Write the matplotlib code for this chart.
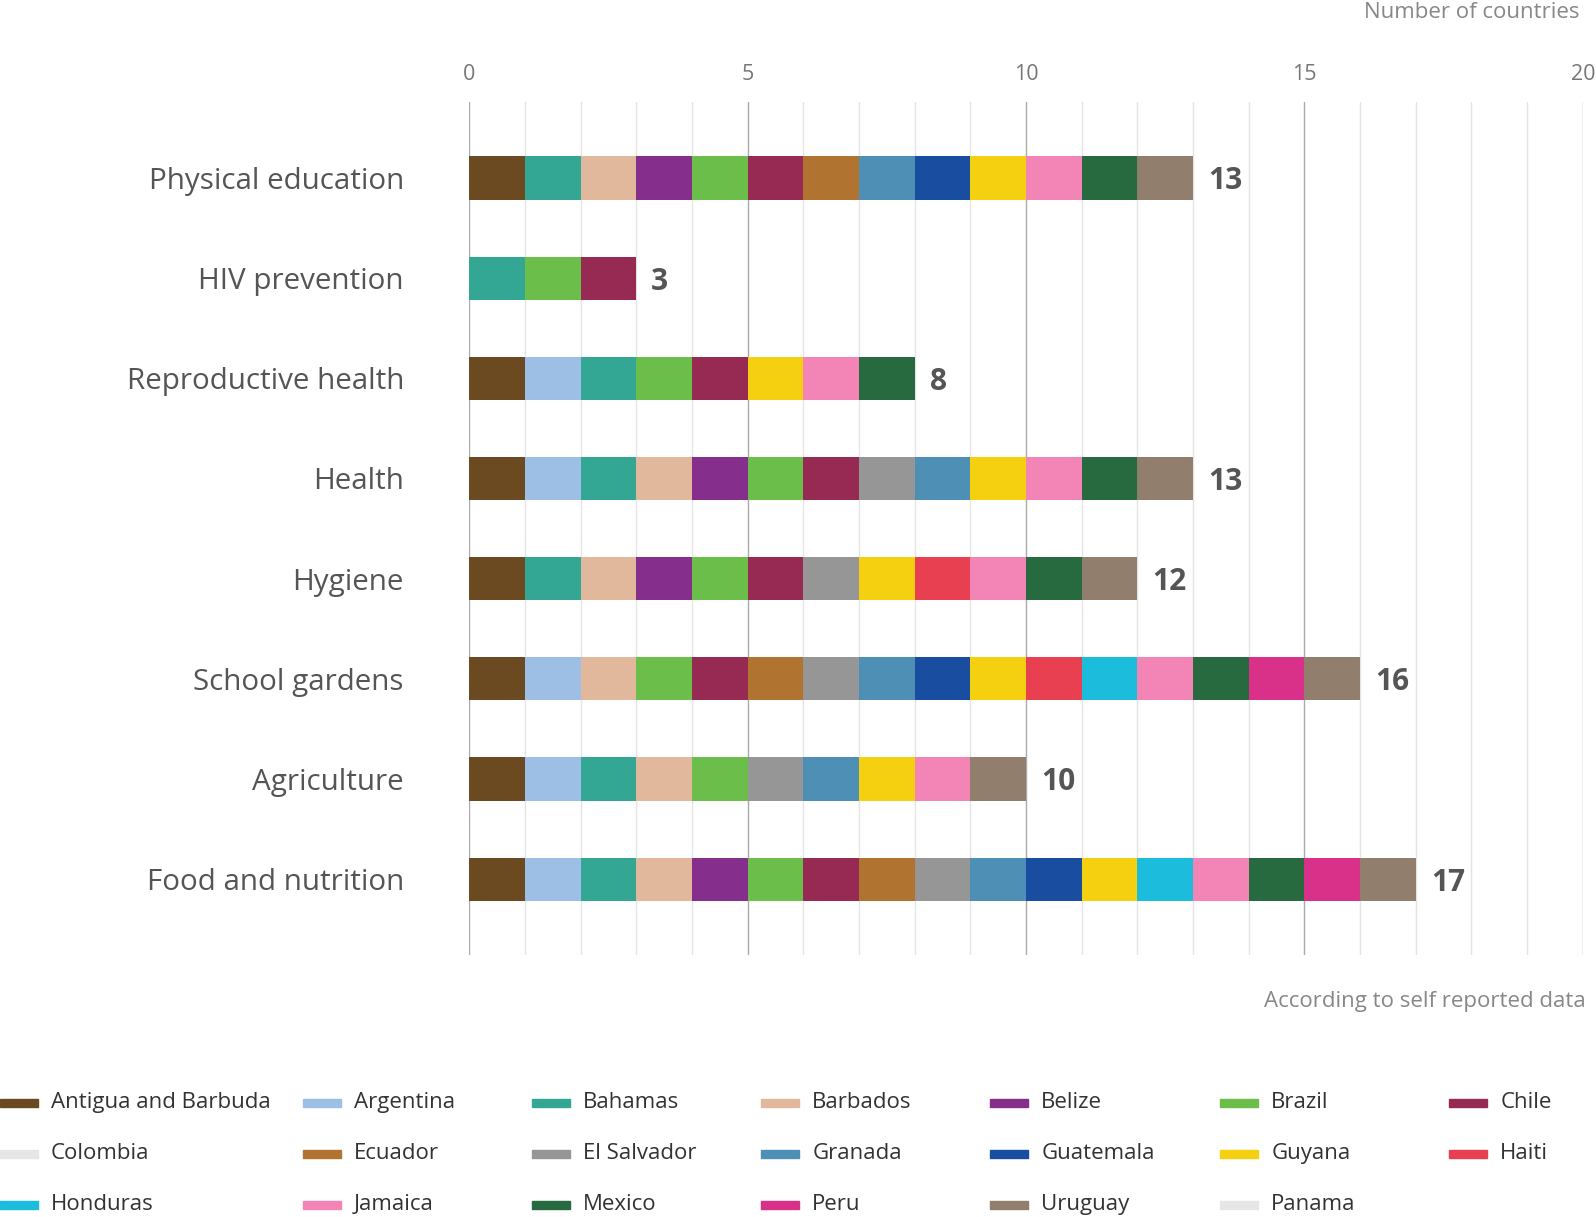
import matplotlib
matplotlib.use("Agg")
import matplotlib.pyplot as plt
from matplotlib.patches import Rectangle

plt.rcParams['font.family'] = ['Open Sans', 'DejaVu Sans']

# countries in legend order, with their colours
countries = ["Antigua and Barbuda", "Argentina", "Bahamas", "Barbados", "Belize", "Brazil", "Chile",
             "Colombia", "Ecuador", "El Salvador", "Granada", "Guatemala", "Guyana", "Haiti",
             "Honduras", "Jamaica", "Mexico", "Peru", "Uruguay", "Panama"]
colors = ["#6b4a22", "#9dbfe6", "#33a694", "#e2b89c", "#862e8c", "#6cbe4a", "#962a52",
          "#e6e6e6", "#b07430", "#969696", "#4e90b5", "#184da0", "#f5d010", "#e84050",
          "#1cbcdc", "#f285b5", "#276a40", "#d9308a", "#927e6c", "#e6e6e6"]

categories = ["Physical education", "HIV prevention", "Reproductive health", "Health",
              "Hygiene", "School gardens", "Agriculture", "Food and nutrition"]

# which countries report each topic
physical_education = ["Antigua and Barbuda", "Bahamas", "Barbados", "Belize", "Brazil", "Chile", "Ecuador",
                      "Granada", "Guatemala", "Guyana", "Jamaica", "Mexico", "Uruguay"]
hiv_prevention = ["Bahamas", "Brazil", "Chile"]
reproductive_health = ["Antigua and Barbuda", "Argentina", "Bahamas", "Brazil", "Chile", "Guyana",
                       "Jamaica", "Mexico"]
health = ["Antigua and Barbuda", "Argentina", "Bahamas", "Barbados", "Belize", "Brazil", "Chile",
          "El Salvador", "Granada", "Guyana", "Jamaica", "Mexico", "Uruguay"]
hygiene = ["Antigua and Barbuda", "Bahamas", "Barbados", "Belize", "Brazil", "Chile", "El Salvador",
           "Guyana", "Haiti", "Jamaica", "Mexico", "Uruguay"]
school_gardens = ["Antigua and Barbuda", "Argentina", "Barbados", "Brazil", "Chile", "Ecuador", "El Salvador",
                  "Granada", "Guatemala", "Guyana", "Haiti", "Honduras", "Jamaica", "Mexico", "Peru", "Uruguay"]
agriculture = ["Antigua and Barbuda", "Argentina", "Bahamas", "Barbados", "Brazil", "El Salvador",
               "Granada", "Guyana", "Jamaica", "Uruguay"]
food_nutrition = ["Antigua and Barbuda", "Argentina", "Bahamas", "Barbados", "Belize", "Brazil", "Chile",
                  "Ecuador", "El Salvador", "Granada", "Guatemala", "Guyana", "Honduras", "Jamaica",
                  "Mexico", "Peru", "Uruguay"]
members = [physical_education, hiv_prevention, reproductive_health, health,
           hygiene, school_gardens, agriculture, food_nutrition]

# layout measured on a 1568x1195 view of the target
W, H = 1568, 1195
def fx(px):
    return px / W
def fy(py):
    return 1 - py / H

fig = plt.figure(figsize=(15.96, 12.17), dpi=100)
ax = fig.add_axes([fx(461), fy(938), (1555 - 461) / W, (938 - 100) / H])

ypos = list(range(len(categories)))
left = [0] * len(categories)
for c, col in zip(countries, colors):
    w = [1 if c in m else 0 for m in members]
    ax.barh(ypos, w, left=left, height=0.43, color=col, zorder=3, linewidth=0)
    left = [l + wi for l, wi in zip(left, w)]

for y, tot in zip(ypos, left):
    ax.text(tot + 0.27, y, str(tot), va='center_baseline', ha='left', fontsize=21.5,
            fontweight='bold', color='#555555')

ax.set_xlim(0, 20)
ax.set_ylim(len(categories) - 0.24, -0.76)
ax.set_xticks([0, 5, 10, 15, 20])
ax.set_xticks(range(21), minor=True)
ax.xaxis.tick_top()
ax.tick_params(axis='x', which='both', length=0, pad=12, labelsize=15.5, labelcolor='#777777')
ax.grid(axis='x', which='minor', color='#e4e4e4', linewidth=1, zorder=0)
ax.grid(axis='x', which='major', color='#aaaaaa', linewidth=1, zorder=0)
ax.set_yticks(ypos)
ax.set_yticklabels(categories)
ax.tick_params(axis='y', length=0, pad=47, labelsize=21.3, labelcolor='#555555')
for s in ax.spines.values():
    s.set_visible(False)

fig.text(fx(1552), fy(12), "Number of countries", ha='right', va='center',
         fontsize=16, color='#888888')
fig.text(fx(1558), fy(983), "According to self reported data", ha='right', va='center',
         fontsize=16, color='#888888')

# legend, row by row
col_x = [0, 298, 523, 748, 973, 1199, 1424]
row_y = [1083, 1133, 1183]
for i, (c, col) in enumerate(zip(countries, colors)):
    r, k = divmod(i, 7)
    x0 = col_x[k]
    y0 = row_y[r]
    fig.patches.append(Rectangle((fx(x0), fy(y0 + 4)), 37 / W, 8 / H,
                                 transform=fig.transFigure, color=col, figure=fig))
    fig.text(fx(x0 + 50), fy(y0), c, ha='left', va='center',
             fontsize=16, color='#333333')

fig.savefig("out.png", dpi=100)
